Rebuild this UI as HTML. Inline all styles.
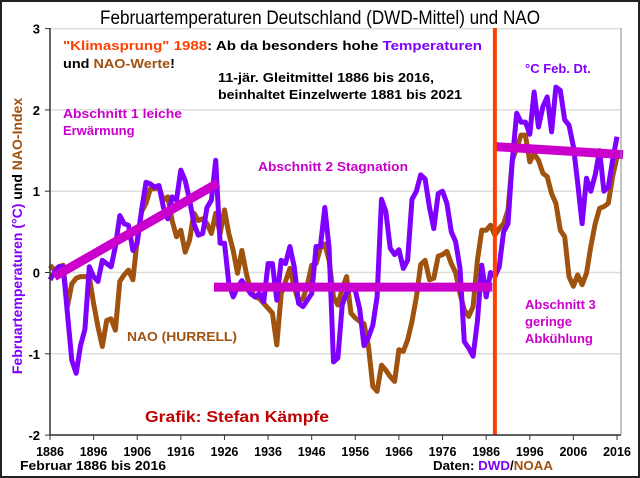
<!DOCTYPE html>
<html><head><meta charset="utf-8"><style>
html,body{margin:0;padding:0;background:#fff}
svg{display:block;font-family:"Liberation Sans",sans-serif}
</style></head><body>
<svg id="chart" width="640" height="478" viewBox="0 0 640 478" xmlns="http://www.w3.org/2000/svg">
<rect x="1" y="1" width="638" height="476" fill="#fff" stroke="#222" stroke-width="2"/>
<text x="100" y="24" textLength="440" lengthAdjust="spacingAndGlyphs" font-size="19" fill="#000">Februartemperaturen Deutschland (DWD-Mittel) und NAO</text>
<g id="grid"></g>
<g id="ticks"></g>
<g id="marks"></g>
<line x1="50" y1="28" x2="50" y2="435" stroke="#333" stroke-width="1.5"/>
<line x1="50" y1="435" x2="621" y2="435" stroke="#333" stroke-width="1.5"/>
<line x1="621" y1="28" x2="621" y2="435" stroke="#888" stroke-width="1"/>
<text transform="translate(22,236) rotate(-90)" text-anchor="middle" font-size="14" font-weight="bold"><tspan fill="#7f00ff">Februartemperaturen (°C)</tspan><tspan fill="#000"> und </tspan><tspan fill="#a0520f">NAO-Index</tspan></text>
<g font-weight="bold">
<text x="63" y="50" font-size="13" textLength="419" lengthAdjust="spacingAndGlyphs"><tspan fill="#ff4000">"Klimasprung" 1988</tspan><tspan fill="#000">: Ab da besonders hohe </tspan><tspan fill="#7f00ff">Temperaturen</tspan></text>
<text x="63" y="68" font-size="13" textLength="112" lengthAdjust="spacingAndGlyphs"><tspan fill="#000">und </tspan><tspan fill="#a0520f">NAO-Werte</tspan><tspan fill="#000">!</tspan></text>
<text x="218" y="82" font-size="12.5" textLength="216" lengthAdjust="spacingAndGlyphs" fill="#000">11-jär. Gleitmittel 1886 bis 2016,</text>
<text x="218" y="99" font-size="12.5" textLength="244" lengthAdjust="spacingAndGlyphs" fill="#000">beinhaltet Einzelwerte 1881 bis 2021</text>
<text x="525" y="73" font-size="13" fill="#7f00ff">°C Feb. Dt.</text>
<text x="63" y="118" font-size="13" textLength="119" lengthAdjust="spacingAndGlyphs" fill="#cc00cc">Abschnitt 1 leiche</text>
<text x="63" y="135" font-size="13" fill="#cc00cc">Erwärmung</text>
<text x="258" y="171" font-size="13" textLength="150" lengthAdjust="spacingAndGlyphs" fill="#cc00cc">Abschnitt 2 Stagnation</text>
<text x="127" y="341" font-size="13" textLength="110" lengthAdjust="spacingAndGlyphs" fill="#a0520f">NAO (HURRELL)</text>
<text x="525" y="309" font-size="13" fill="#cc00cc">Abschnitt 3</text>
<text x="525" y="326" font-size="13" fill="#cc00cc">geringe</text>
<text x="525" y="343" font-size="13" fill="#cc00cc">Abkühlung</text>
<text x="145" y="422" font-size="16" textLength="184" lengthAdjust="spacingAndGlyphs" fill="#c00000">Grafik: Stefan Kämpfe</text>
<text x="20" y="470" font-size="12.5" textLength="146" lengthAdjust="spacingAndGlyphs" fill="#000">Februar 1886 bis 2016</text>
<text x="433" y="470" font-size="12.5" textLength="120" lengthAdjust="spacingAndGlyphs"><tspan fill="#000">Daten: </tspan><tspan fill="#7f00ff">DWD</tspan><tspan fill="#000">/</tspan><tspan fill="#a0520f">NOAA</tspan></text>
</g>
</svg>
<script>
const startYear = 1886;
const tempValues = [-0.09,0,0.07,0.07,-0.5,-1.08,-1.24,-0.9,-0.7,0.07,-0.05,-0.11,0.15,0.11,0.07,0.32,0.7,0.6,0.58,0.27,0.36,0.77,1.11,1.09,1.05,1.07,0.8,0.66,0.93,0.89,1.26,1.13,0.89,0.6,0.46,0.48,0.8,0.89,1.38,0.36,0.36,-0.13,-0.3,-0.18,-0.1,-0.18,-0.26,-0.3,-0.26,-0.36,0.11,0.11,-0.34,0.15,0.11,0.32,0.07,-0.38,-0.42,-0.34,-0.26,0.32,0.32,0.8,0.3,-1.1,-1.05,-0.4,-0.25,-0.2,-0.22,-0.45,-0.9,-0.8,-0.65,-0.3,0.9,0.75,0.3,0.22,0.28,0.05,0.15,0.9,1.0,1.2,1.15,0.8,0.54,0.97,1.0,0.85,0.5,0.38,0.05,-0.85,-0.93,-1.03,-0.6,0.09,-0.3,0,-0.05,0.07,0.5,0.6,1.38,1.96,1.85,1.85,1.7,2.22,1.79,2.04,2.16,1.73,2.28,2.24,1.88,1.81,1.55,1.1,0.6,1.16,1.0,1.2,1.5,1.0,1.05,1.38,1.67];
const naoValues = [0.09,0.03,0.07,0.09,-0.42,-0.14,-0.07,-0.05,-0.05,-0.05,-0.38,-0.67,-0.91,-0.59,-0.57,-0.71,-0.11,-0.03,0.03,-0.09,0.4,0.75,0.85,1.03,1.03,1.05,0.89,0.93,0.64,0.44,0.52,0.25,0.4,0.73,0.64,0.66,0.6,0.48,0.73,0.48,0.77,0.48,0.27,-0.01,0.27,-0.01,-0.22,-0.3,-0.32,-0.38,-0.44,-0.5,-0.89,-0.26,-0.11,0.05,-0.18,-0.36,-0.32,-0.16,0.09,0.11,0.3,0.35,0.15,-0.3,-0.4,-0.2,-0.05,-0.5,-0.56,-0.6,-0.63,-0.9,-1.4,-1.46,-1.14,-1.2,-1.28,-1.34,-0.95,-0.97,-0.83,-0.6,-0.3,0.1,0.15,-0.09,-0.07,0.2,0.22,0.26,0.11,0,-0.26,-0.46,-0.54,-0.42,0.15,0.52,0.52,0.58,0.46,0.54,0.6,0.77,1.38,1.53,1.69,1.69,1.36,1.46,1.38,1.22,1.18,0.97,0.85,0.52,0.44,-0.05,-0.17,-0.03,-0.15,-0.01,0.32,0.6,0.79,0.81,0.85,1.18,1.42];
const trendStartYears = [1887, 1923.6, 1987.6];
const trendEndYears = [1924.5, 1987.4, 2017.4];
const trendStartValues = [-0.05, -0.18, 1.55];
const trendEndValues = [1.1, -0.18, 1.45];
const breakYear = 1988;
const yTicks = [3,2,1,0,-1,-2];
const xTickYears = [1886,1896,1906,1916,1926,1936,1946,1956,1966,1976,1986,1996,2006,2016];

const NS = "http://www.w3.org/2000/svg";
function xs(yr){ return 50 + (yr - 1886) * (567 / 130); }
function ys(v){ return 272.5 - v * 81.3; }
function mk(tag, attrs, parent){ const e = document.createElementNS(NS, tag); for (const k in attrs) e.setAttribute(k, attrs[k]); parent.appendChild(e); return e; }
const grid = document.getElementById('grid'), ticks = document.getElementById('ticks'), marks = document.getElementById('marks');

yTicks.forEach(v => {
  const g = mk('line', {x1:50, x2:621, y1:ys(v), y2:ys(v), stroke:'#ddd', 'stroke-width':1.5}, grid);
  
  
  const t = mk('line', {x1:45, x2:50, y1:ys(v), y2:ys(v), stroke:'#333'}, ticks);
  
  
  const l = mk('text', {x:40, y:ys(v)+5, 'text-anchor':'end', 'font-size':13, 'font-weight':'bold'}, ticks);
  l.textContent = v;
  
  
});
xTickYears.forEach(yr => {
  const t = mk('line', {x1:xs(yr), x2:xs(yr), y1:435, y2:440, stroke:'#333'}, ticks);
  
  
  const l = mk('text', {x:xs(yr), y:456, 'text-anchor':'middle', 'font-size':12.5, 'font-weight':'bold'}, ticks);
  l.textContent = yr;
  
  
});

function series(vals, color, name){
  const pts = vals.map((v,i) => xs(startYear+i).toFixed(1) + ',' + ys(v).toFixed(1)).join(' ');
  const p = mk('polyline', {points:pts, fill:'none', stroke:color, 'stroke-width':5, 'stroke-linejoin':'round'}, marks);
  
  
}
series(naoValues, '#a0520f', 'nao-line');
series(tempValues, '#7f00ff', 'temperature-line');

trendStartYears.forEach((y0,i) => {
  const l = mk('line', {x1:xs(y0), y1:ys(trendStartValues[i]), x2:xs(trendEndYears[i]), y2:ys(trendEndValues[i]), stroke:'#cc00cc', 'stroke-width':9}, marks);
  
  
});
const bl = mk('line', {x1:xs(breakYear), x2:xs(breakYear), y1:28, y2:435, stroke:'#ff4000', 'stroke-width':4}, marks);


</script>
</body></html>
